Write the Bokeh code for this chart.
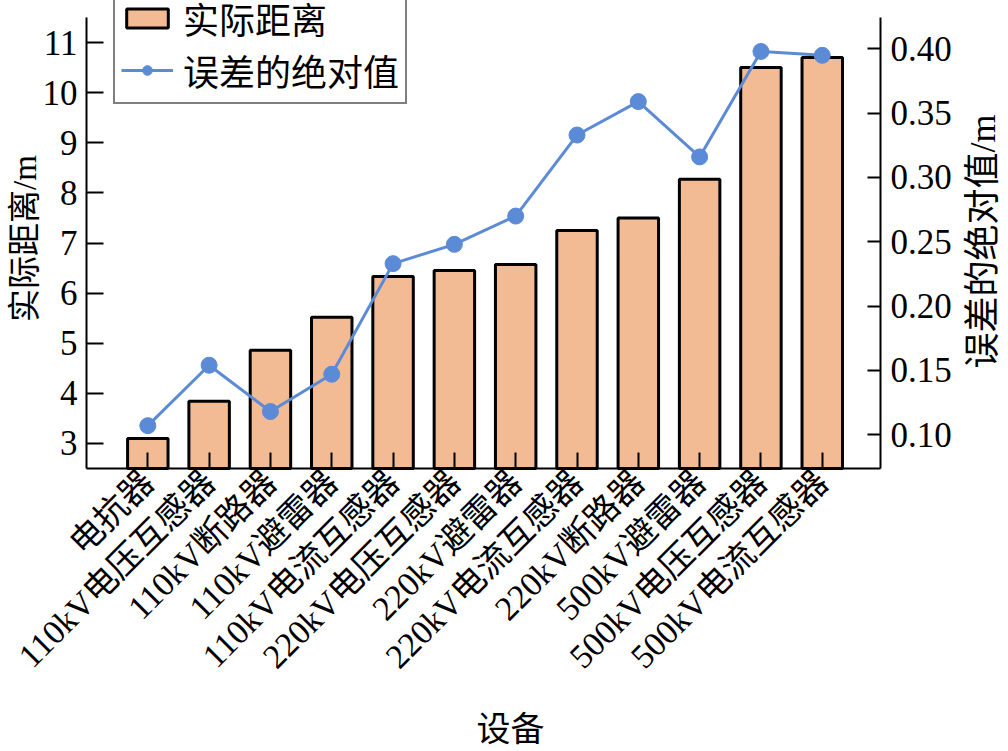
import math
from bokeh.plotting import figure
from bokeh.models import (Range1d, LinearAxis, FixedTicker, PrintfTickFormatter,
                          Legend, LegendItem, ColumnDataSource, Label)
from bokeh.embed import file_html
from bokeh.resources import INLINE

devices = ["电抗器", "110kV电压互感器", "110kV断路器", "110kV避雷器", "110kV电流互感器",
           "220kV电压互感器", "220kV避雷器", "220kV电流互感器", "220kV断路器",
           "500kV避雷器", "500kV电压互感器", "500kV电流互感器"]
distance = [3.10, 3.84, 4.86, 5.52, 6.33, 6.45, 6.57, 7.25, 7.50, 8.27, 10.50, 10.70]
abs_error = [0.107, 0.154, 0.118, 0.147, 0.233, 0.248, 0.270, 0.333, 0.359, 0.316, 0.398, 0.395]
left_ticks = [3, 4, 5, 6, 7, 8, 9, 10, 11]
right_ticks = [0.10, 0.15, 0.20, 0.25, 0.30, 0.35, 0.40]

xpos = list(range(1, len(devices) + 1))
src = ColumnDataSource(dict(x=xpos, dist=distance, err=abs_error))

FONT = "Liberation Serif, Noto Sans CJK SC"
BAR_FILL = "#F3BB93"
LINE_COL = "#5B8BD6"

W, H = 1008, 751
# plotting box in page pixels (left, right, top, bottom)
PL, PR, PT, PB = 86, 880, 17, 468
X0, X1 = 0.0, 12.95           # data x at PL / PR
Y0, Y1 = 2.5, 11.5            # left axis values at PB / PT
E0, E1 = 0.0737, 0.4244       # right axis values at PB / PT

# the frame covers the whole page; every axis is pinned at the plotting box edge
xs = (X1 - X0) / (PR - PL)
ys = (Y1 - Y0) / (PB - PT)
es = (E1 - E0) / (PB - PT)
x_rng = Range1d(X0 - PL * xs, X1 + (W - PR) * xs)
y_rng = Range1d(Y0 - (H - PB) * ys, Y0 + PB * ys)
e_rng = Range1d(E0 - (H - PB) * es, E0 + PB * es)

def px_x(px):
    return X0 + (px - PL) * xs

def px_y(py):
    return Y0 + (PB - py) * ys

p = figure(width=W, height=H, x_range=x_rng, y_range=y_rng,
           output_backend="svg", toolbar_location=None,
           x_axis_location=None, y_axis_location=None,
           min_border_left=0, min_border_right=0, min_border_top=0, min_border_bottom=0)
p.extra_y_ranges = {"err": e_rng}
p.outline_line_color = None
p.xgrid.visible = False
p.ygrid.visible = False
p.background_fill_color = "white"
p.border_fill_color = "white"

bars = p.vbar(x="x", top="dist", bottom=Y0, width=0.66, source=src,
              fill_color=BAR_FILL, line_color="black", line_width=3)
ln = p.line(x="x", y="err", source=src, y_range_name="err", line_color=LINE_COL, line_width=3)
pts = p.scatter(x="x", y="err", source=src, y_range_name="err", size=16,
                fill_color=LINE_COL, line_color=LINE_COL)

xa = LinearAxis(fixed_location=Y0, bounds=(X0, X1))
xa.ticker = FixedTicker(ticks=xpos)
xa.major_label_overrides = {i: d for i, d in zip(xpos, devices)}
xa.major_label_orientation = math.pi / 4

ya = LinearAxis(fixed_location=X0, bounds=(Y0, Y1))
ya.ticker = FixedTicker(ticks=left_ticks)

ra = LinearAxis(y_range_name="err", fixed_location=X1, bounds=(E0, E1))
ra.ticker = FixedTicker(ticks=right_ticks)
ra.formatter = PrintfTickFormatter(format="%.2f")

for ax in (xa, ya, ra):
    ax.axis_line_color = "black"
    ax.axis_line_width = 2
    ax.major_tick_line_color = "black"
    ax.major_tick_line_width = 2
    ax.major_tick_out = 0
    ax.minor_tick_line_color = None
    ax.major_label_text_font = FONT
    ax.major_label_text_font_size = "35px"
    ax.major_label_text_color = "black"

xa.major_label_text_font_size = "34px"
ya.major_tick_in = 17
ya.major_label_standoff = 9
ra.major_tick_in = 13
ra.major_label_standoff = 10
xa.major_tick_in = 16
xa.major_label_standoff = 8

p.add_layout(xa, "below")
p.add_layout(ya, "left")
p.add_layout(ra, "right")

def axis_title(text, px, py, angle, size):
    return Label(x=px_x(px), y=px_y(py), text=text, angle=angle,
                 text_align="center", text_baseline="middle",
                 text_font=FONT, text_font_size=size, text_color="black")

p.add_layout(axis_title("实际距离/m", 24, 238, math.pi / 2, "33px"))
p.add_layout(axis_title("误差的绝对值/m", 982, 241, math.pi / 2, "36px"))
p.add_layout(axis_title("设备", 510, 729, 0, "34px"))

legend = Legend(items=[LegendItem(label="实际距离", renderers=[bars]),
                       LegendItem(label="误差的绝对值", renderers=[ln, pts])],
                location=(113, H - 2 - 102))
legend.label_text_font = FONT
legend.label_text_font_size = "36px"
legend.label_text_line_height = 1.0
legend.label_text_color = "black"
legend.glyph_width = 52
legend.glyph_height = 24
legend.label_standoff = 10
legend.spacing = 0
legend.padding = 6
legend.margin = 0
legend.border_line_color = "black"
legend.border_line_width = 2
legend.background_fill_color = "white"
legend.background_fill_alpha = 1.0
p.add_layout(legend, "center")

open("out.html", "w").write(file_html(p, INLINE))
